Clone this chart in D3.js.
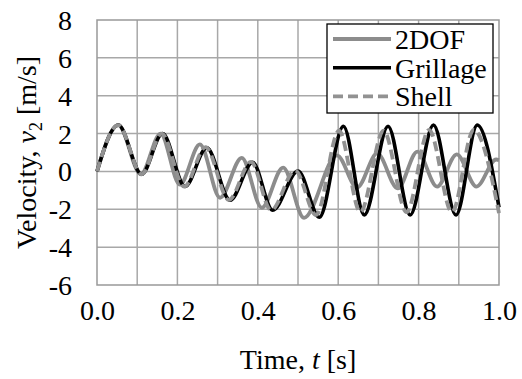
<!DOCTYPE html>
<html>
<head>
<meta charset="utf-8">
<script src="https://cdn.jsdelivr.net/npm/d3@7"></script>
<style>
  html, body { margin: 0; padding: 0; background: #fff; }
  svg { display: block; }
  svg text { font-family: "Liberation Serif", "Times New Roman", Times, serif; }
</style>
</head>
<body>
<svg id="chart" width="522" height="379"></svg>
<script>
// ---- data ----
const xTicks = [0.0, 0.2, 0.4, 0.6, 0.8, 1.0];
const xGrid = [0.1, 0.2, 0.3, 0.4, 0.5, 0.6, 0.7, 0.8, 0.9];
const yTicks = [-6, -4, -2, 0, 2, 4, 6, 8];
const seriesNames = ["2DOF", "Grillage", "Shell"];

const t2dof = [0, 0.053, 0.109, 0.158, 0.206, 0.256, 0.306, 0.36, 0.41, 0.463, 0.515, 0.597, 0.647, 0.697, 0.748, 0.797, 0.846, 0.895, 0.944, 0.993, 1.0];
const v2dof = [0, 2.45, -0.15, 2.0, -0.7, 1.43, -1.39, 0.72, -1.92, 0.2, -2.45, 0.85, -0.85, 0.95, -0.9, 1.05, -0.8, 0.9, -0.8, 0.63, 0.6];

const tGrillage = [0, 0.053, 0.111, 0.163, 0.219, 0.273, 0.331, 0.387, 0.437, 0.5, 0.553, 0.613, 0.665, 0.724, 0.779, 0.837, 0.893, 0.946, 1.0];
const vGrillage = [0, 2.45, -0.15, 2.0, -0.8, 1.25, -1.52, 0.48, -2.05, 0.02, -2.42, 2.39, -2.3, 2.39, -2.3, 2.45, -2.3, 2.45, -1.9];

const tShell = [0, 0.053, 0.111, 0.161, 0.217, 0.27, 0.328, 0.383, 0.433, 0.493, 0.545, 0.602, 0.655, 0.713, 0.77, 0.826, 0.883, 0.937, 1.0];
const vShell = [0, 2.45, -0.15, 2.0, -0.8, 1.28, -1.5, 0.5, -2.05, 0.05, -2.3, 2.15, -2.15, 2.15, -2.15, 2.2, -2.15, 2.2, -2.2];

// ---- layout ----
const FONT = '"Liberation Serif", "Times New Roman", Times, serif';
const svg = d3.select("#chart");
const L = 97, R = 499, T = 20, B = 285;
const x = d3.scaleLinear().domain([0, 1]).range([L, R]);
const y = d3.scaleLinear().domain([-6, 8]).range([B, T]);
const gridColor = "#a8a8a8";

// grid
svg.append("g").selectAll("line").data(xGrid).join("line")
  .attr("x1", d => x(d)).attr("x2", d => x(d)).attr("y1", T).attr("y2", B)
  .attr("stroke", gridColor).attr("stroke-width", 1.5);
svg.append("g").selectAll("line").data(yTicks.filter(d => d > -6 && d < 8)).join("line")
  .attr("x1", L).attr("x2", R).attr("y1", d => y(d)).attr("y2", d => y(d))
  .attr("stroke", gridColor).attr("stroke-width", 1.5);
svg.append("rect").attr("x", L).attr("y", T).attr("width", R - L).attr("height", B - T)
  .attr("fill", "none").attr("stroke", "#999").attr("stroke-width", 1.5);

// axes labels via d3 axes (tick text only)
const fs = 28;
const xAxis = svg.append("g").attr("transform", `translate(0,${B})`)
  .call(d3.axisBottom(x).tickValues(xTicks).tickFormat(d3.format(".1f")).tickSize(0).tickPadding(0));
xAxis.attr("font-family", FONT);
xAxis.select(".domain").remove();
xAxis.selectAll("text").attr("font-size", fs).attr("font-family", FONT)
  .attr("fill", "#000").attr("dy", null).attr("y", 35);

const yAxis = svg.append("g").attr("transform", `translate(${L},0)`)
  .call(d3.axisLeft(y).tickValues(yTicks).tickFormat(d => String(d)).tickSize(0).tickPadding(0));
yAxis.attr("font-family", FONT);
yAxis.select(".domain").remove();
yAxis.selectAll("text").attr("font-size", fs).attr("font-family", FONT)
  .attr("fill", "#000").attr("dy", null).attr("x", -25).attr("y", 9.5);

// axis titles
const xt = svg.append("text").attr("x", (L + R) / 2).attr("y", 369)
  .attr("text-anchor", "middle").attr("font-size", fs).attr("font-family", FONT);
xt.append("tspan").text("Time, ");
xt.append("tspan").attr("font-style", "italic").text("t");
xt.append("tspan").text(" [s]");

const yt = svg.append("text").attr("transform", `translate(36,${(T + B) / 2}) rotate(-90)`)
  .attr("text-anchor", "middle").attr("font-size", fs).attr("font-family", FONT);
yt.append("tspan").text("Velocity, ");
yt.append("tspan").attr("font-style", "italic").text("v");
yt.append("tspan").attr("font-size", 18).attr("dy", 6).text("2");
yt.append("tspan").attr("dy", -6).text(" [m/s]");

// lines
const line = d3.line().x(d => x(d[0])).y(d => y(d[1])).curve(d3.curveMonotoneX);
const styles = [
  { color: "#8c8c8c", width: 3.8, dash: null },
  { color: "#000000", width: 3.6, dash: null },
  { color: "#929292", width: 3.8, dash: "10,5" }
];
const data = [
  d3.zip(t2dof, v2dof),
  d3.zip(tGrillage, vGrillage),
  d3.zip(tShell, vShell)
];
data.forEach((d, i) => {
  svg.append("path").datum(d).attr("d", line)
    .attr("fill", "none").attr("stroke", styles[i].color)
    .attr("stroke-width", styles[i].width)
    .attr("stroke-dasharray", styles[i].dash)
    .attr("stroke-linejoin", "round");
});

// legend
const lg = svg.append("g");
lg.append("rect").attr("x", 327).attr("y", 24).attr("width", 166).attr("height", 89)
  .attr("fill", "#fff").attr("stroke", "#000").attr("stroke-width", 1.3);
seriesNames.forEach((name, i) => {
  const by = 49 + i * 28.7;
  lg.append("line").attr("x1", 333).attr("x2", 391).attr("y1", by - 10).attr("y2", by - 10)
    .attr("stroke", styles[i].color).attr("stroke-width", styles[i].width)
    .attr("stroke-dasharray", styles[i].dash);
  lg.append("text").attr("x", 395).attr("y", by).attr("font-size", fs)
    .attr("font-family", FONT).text(name);
});
</script>
</body>
</html>
